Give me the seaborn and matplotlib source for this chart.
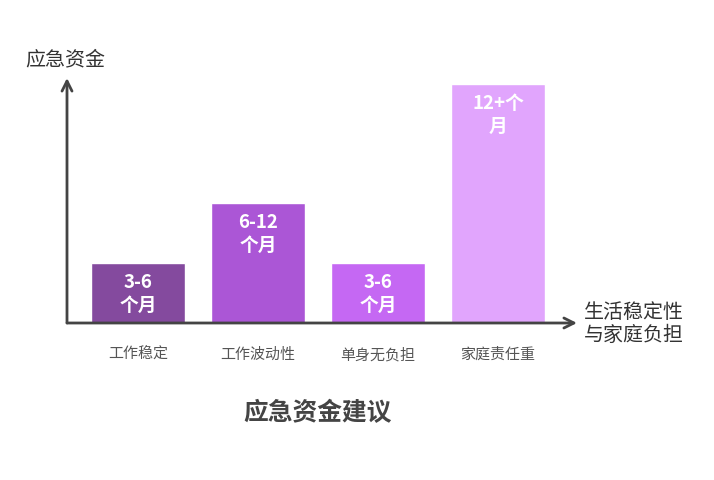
import matplotlib
matplotlib.use("Agg")
import matplotlib.pyplot as plt
import seaborn as sns
import pandas as pd

# data
categories = ["工作稳定", "工作波动性", "单身无负担", "家庭责任重"]
months = [3, 6, 3, 12]
bar_labels = ["3-6\n个月", "6-12\n个月", "3-6\n个月", "12+个\n月"]
colors = ["#844a9e", "#ab56d6", "#c568f3", "#e1a5fd"]

sns.set_theme(style="white")
plt.rcParams["font.family"] = ["Noto Sans CJK SC", "DejaVu Sans"]

df = pd.DataFrame({"cat": categories, "val": months})

fig = plt.figure(figsize=(7.14, 4.8), dpi=100)
ax = fig.add_axes([67 / 714, 157 / 480, 510 / 714, 245 / 480])

sns.barplot(data=df, x="cat", y="val", hue="cat", palette=colors,
            width=0.783, legend=False, ax=ax, saturation=1)

ax.set_xlim(-0.592, 3.658)
ax.set_ylim(0, 12.3)
for s in ax.spines.values():
    s.set_visible(False)
ax.set_xticks([])
ax.set_yticks([])
ax.set_xlabel("")
ax.set_ylabel("")

# axis arrows
axis_col = "#444444"
ax.annotate("", xy=(1, 0), xytext=(0, 0), xycoords="axes fraction",
            arrowprops=dict(arrowstyle="->", color=axis_col, lw=2,
                            mutation_scale=18, shrinkA=0, shrinkB=0))
ax.annotate("", xy=(0, 1), xytext=(0, 0), xycoords="axes fraction",
            arrowprops=dict(arrowstyle="->", color=axis_col, lw=2,
                            mutation_scale=18, shrinkA=0, shrinkB=0))

# labels inside bars
for i, (v, lab) in enumerate(zip(months, bar_labels)):
    ax.annotate(lab, xy=(i, v), xytext=(0, -7), textcoords="offset points",
                ha="center", va="top", color="white", fontsize=13.5,
                fontweight="bold", linespacing=1.25)
    ax.annotate(categories[i], xy=(i, 0), xytext=(0, -23),
                textcoords="offset points", ha="center", va="center",
                color="#555555", fontsize=10.8)

fig.text(25 / 714, 1 - 60 / 480, "应急资金", fontsize=14.4, color="#333333",
         ha="left", va="center")
fig.text(584 / 714, 1 - 324 / 480, "生活稳定性\n与家庭负担", fontsize=14.4,
         color="#333333", ha="left", va="center", linespacing=1.1)
fig.text(318 / 714, 1 - 413 / 480, "应急资金建议", fontsize=17.8,
         fontweight="bold", color="#444444", ha="center", va="center")

fig.savefig("out.png", dpi=100)
